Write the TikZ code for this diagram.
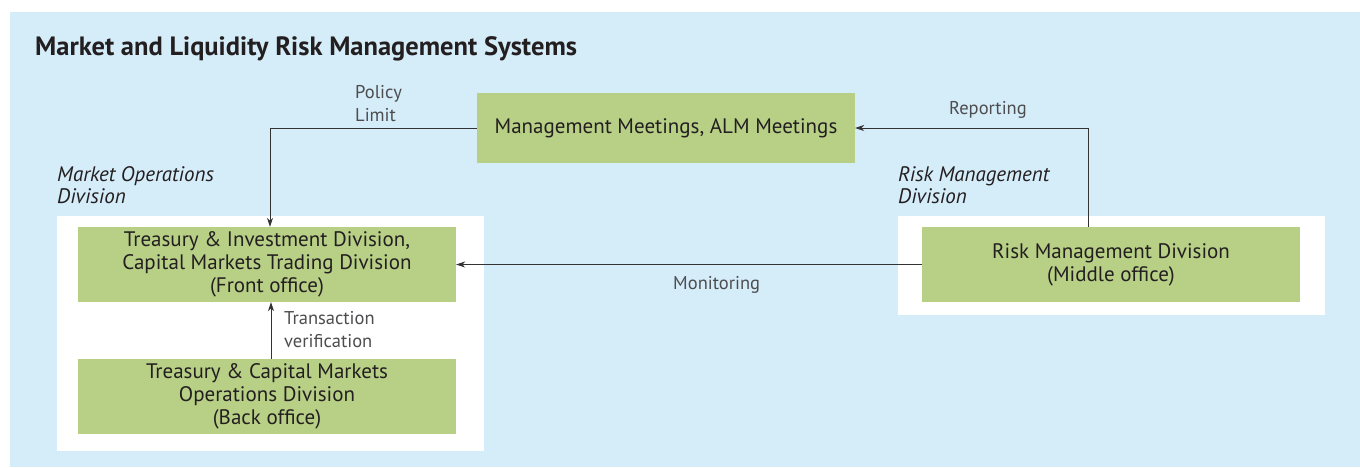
\documentclass[tikz,border=0pt]{standalone}
\usepackage{fontspec}
\setmainfont{PT Sans}
\usetikzlibrary{arrows.meta}
\definecolor{bgblue}{HTML}{D5ECF9}
\definecolor{boxgreen}{HTML}{B8CF86}
\definecolor{txt}{HTML}{231F20}
\definecolor{lbl}{HTML}{4D4D4F}
\definecolor{ln}{HTML}{333333}
\tikzset{
  gbox/.style={rectangle, fill=boxgreen, minimum width=378pt, minimum height=75pt, align=center, text=txt, font=\fontsize{21}{23}\selectfont, inner sep=0pt},
  lab/.style={anchor=base west, text=lbl, font=\fontsize{18.5}{22.5}\selectfont, align=left, inner sep=0pt},
  divlab/.style={anchor=base west, text=txt, font=\fontsize{21}{22}\selectfont\itshape, align=left, inner sep=0pt},
  arr/.style={draw=ln, line width=0.9pt, -{Stealth[length=9pt,width=6pt]}},
}
\begin{document}
\begin{tikzpicture}[x=1pt,y=-1pt]
\useasboundingbox (0,0) rectangle (1360,467);
\fill[bgblue] (10,12) rectangle (1360,467);
\fill[white] (57,216) rectangle (484,451);
\fill[white] (898,216) rectangle (1325,315);
\node[anchor=base west, inner sep=0pt, text=txt, font=\fontsize{26.5}{30}\selectfont\bfseries] (title) at (35,55) {Market and Liquidity Risk Management Systems};
\node[gbox, minimum height=70pt] (mgmt) at (666,128) {Management Meetings, ALM Meetings};
\node[gbox] (front) at (267,264.5) {Treasury \& Investment Division,\\Capital Markets Trading Division\\(Front office)};
\node[gbox] (back) at (267,396.5) {Treasury \& Capital Markets\\Operations Division\\(Back office)};
\node[gbox] (risk) at (1111,264.5) {Risk Management Division\\(Middle office)};
\node[divlab] (mod) at (57,203) {Market Operations\\Division};
\node[divlab] (rmd) at (898,203) {Risk Management\\Division};
\node[lab] (policy) at (355,121) {Policy\\Limit};
\node[lab] (rep) at (949,114) {Reporting};
\node[lab] (mon) at (673,289) {Monitoring};
\node[lab] (trans) at (284,347) {Transaction\\verification};
\draw[arr] (mgmt.west) -| ([xshift=3pt]front.north);
\draw[arr] ([xshift=-23pt]risk.north) |- (mgmt.east);
\draw[arr] (risk.west) -- (front.east);
\draw[arr] ([xshift=4pt]back.north) -- ([xshift=4pt]front.south);
\end{tikzpicture}
\end{document}
